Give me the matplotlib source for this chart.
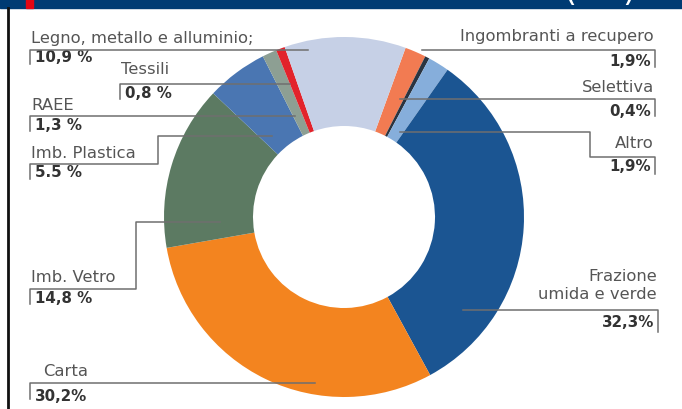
import matplotlib.pyplot as plt
from matplotlib.patches import Rectangle

# Slices, clockwise from the top-right
names = ["Ingombranti a recupero", "Selettiva", "Altro", "Frazione\numida e verde",
         "Carta", "Imb. Vetro", "Imb. Plastica", "RAEE", "Tessili",
         "Legno, metallo e alluminio;"]
shares = [1.9, 0.4, 1.9, 32.3, 30.2, 14.8, 5.5, 1.3, 0.8, 10.9]
value_text = ["1,9%", "0,4%", "1,9%", "32,3%", "30,2%", "14,8 %", "5.5 %",
              "1,3 %", "0,8 %", "10,9 %"]
colors = ["#f27b52", "#2b3440", "#86aedb", "#1b5592", "#f3841f", "#5c7a62",
          "#4a76b2", "#8d9f93", "#e2232b", "#c6d0e6"]

W, H = 682, 410


def Y(y):
    # pixel row (from top) -> data y
    return H - y


def main() -> None:
    fig = plt.figure(figsize=(W / 100, H / 100), dpi=100)
    ax = fig.add_axes([0, 0, 1, 1])
    ax.set_xlim(0, W)
    ax.set_ylim(0, H)
    ax.axis("off")

    cx, cy, r_out, r_in = 344, 218, 180, 91
    ax.pie(shares, colors=colors, startangle=70, counterclock=False,
           center=(cx, Y(cy)), radius=r_out,
           wedgeprops=dict(width=r_out - r_in, linewidth=0))
    ax.set_xlim(0, W)
    ax.set_ylim(0, H)
    ax.set_aspect("auto")

    # header band and frame
    ax.add_patch(Rectangle((0, Y(9)), W, 9, color="#003b73", zorder=5))
    ax.add_patch(Rectangle((26, Y(9)), 7, 9, color="#e30613", zorder=6))
    ax.plot([7.5, 7.5], [Y(9), 0], color="#111111", lw=2, zorder=5)
    band = Rectangle((0, Y(9)), W, 9, transform=ax.transData)
    for x, ch in [(563, "("), (622, ")")]:
        t = ax.text(x, Y(1), ch, color="white", fontsize=24, family="DejaVu Sans",
                    va="baseline", zorder=7)
        t.set_clip_path(band)

    lab = dict(family="DejaVu Sans", fontsize=11.8, color="#555555")
    val = dict(family="DejaVu Sans", fontsize=10.8, color="#333333", fontweight="bold")
    lc = dict(color="#6f6f6f", lw=1.1, zorder=4)

    # left side labels: (name index, label y, line path, value y, bracket x)
    left = [
        (9, 39, [(308, 51), (30, 51), (30, 65)], 58, 30),
        (8, 70, [(290, 85), (120, 85), (120, 100)], 93, 120),
        (7, 105, [(295, 117), (30, 117), (30, 132)], 125, 30),
        (6, 153, [(272, 137), (158, 137), (158, 165), (30, 165), (30, 180)], 173, 30),
        (5, 277, [(220, 223), (136, 223), (136, 290), (30, 290), (30, 305)], 299, 30),
        (4, 372, [(315, 384), (30, 384), (30, 400)], 397, 30),
    ]
    for i, ly, path, vy, x0 in left:
        xs = [p[0] for p in path]
        ys = [Y(p[1]) for p in path]
        ax.plot(xs, ys, **lc)
        lx = x0 + (13 if i == 4 else 1)
        ax.text(lx, Y(ly), names[i], ha="left", va="center", **lab)
        ax.text(x0 + 5, Y(vy), value_text[i], ha="left", va="center", **val)

    right = [
        (0, 37, [(422, 51), (655, 51), (655, 68)], 61, 655),
        (1, 88, [(400, 100), (655, 100), (655, 117)], 111, 655),
        (2, 144, [(400, 133), (590, 133), (590, 158), (655, 158), (655, 175)], 167, 655),
        (3, 286, [(463, 311), (658, 311), (658, 333)], 323, 658),
    ]
    for i, ly, path, vy, x0 in right:
        xs = [p[0] for p in path]
        ys = [Y(p[1]) for p in path]
        ax.plot(xs, ys, **lc)
        ax.text(x0 - 1, Y(ly), names[i], ha="right", va="center",
                multialignment="right", linespacing=1.25, **lab)
        ax.text(x0 - 4, Y(vy), value_text[i], ha="right", va="center", **val)

    fig.savefig("out.png", dpi=100)
    plt.close(fig)


if __name__ == "__main__":
    main()
